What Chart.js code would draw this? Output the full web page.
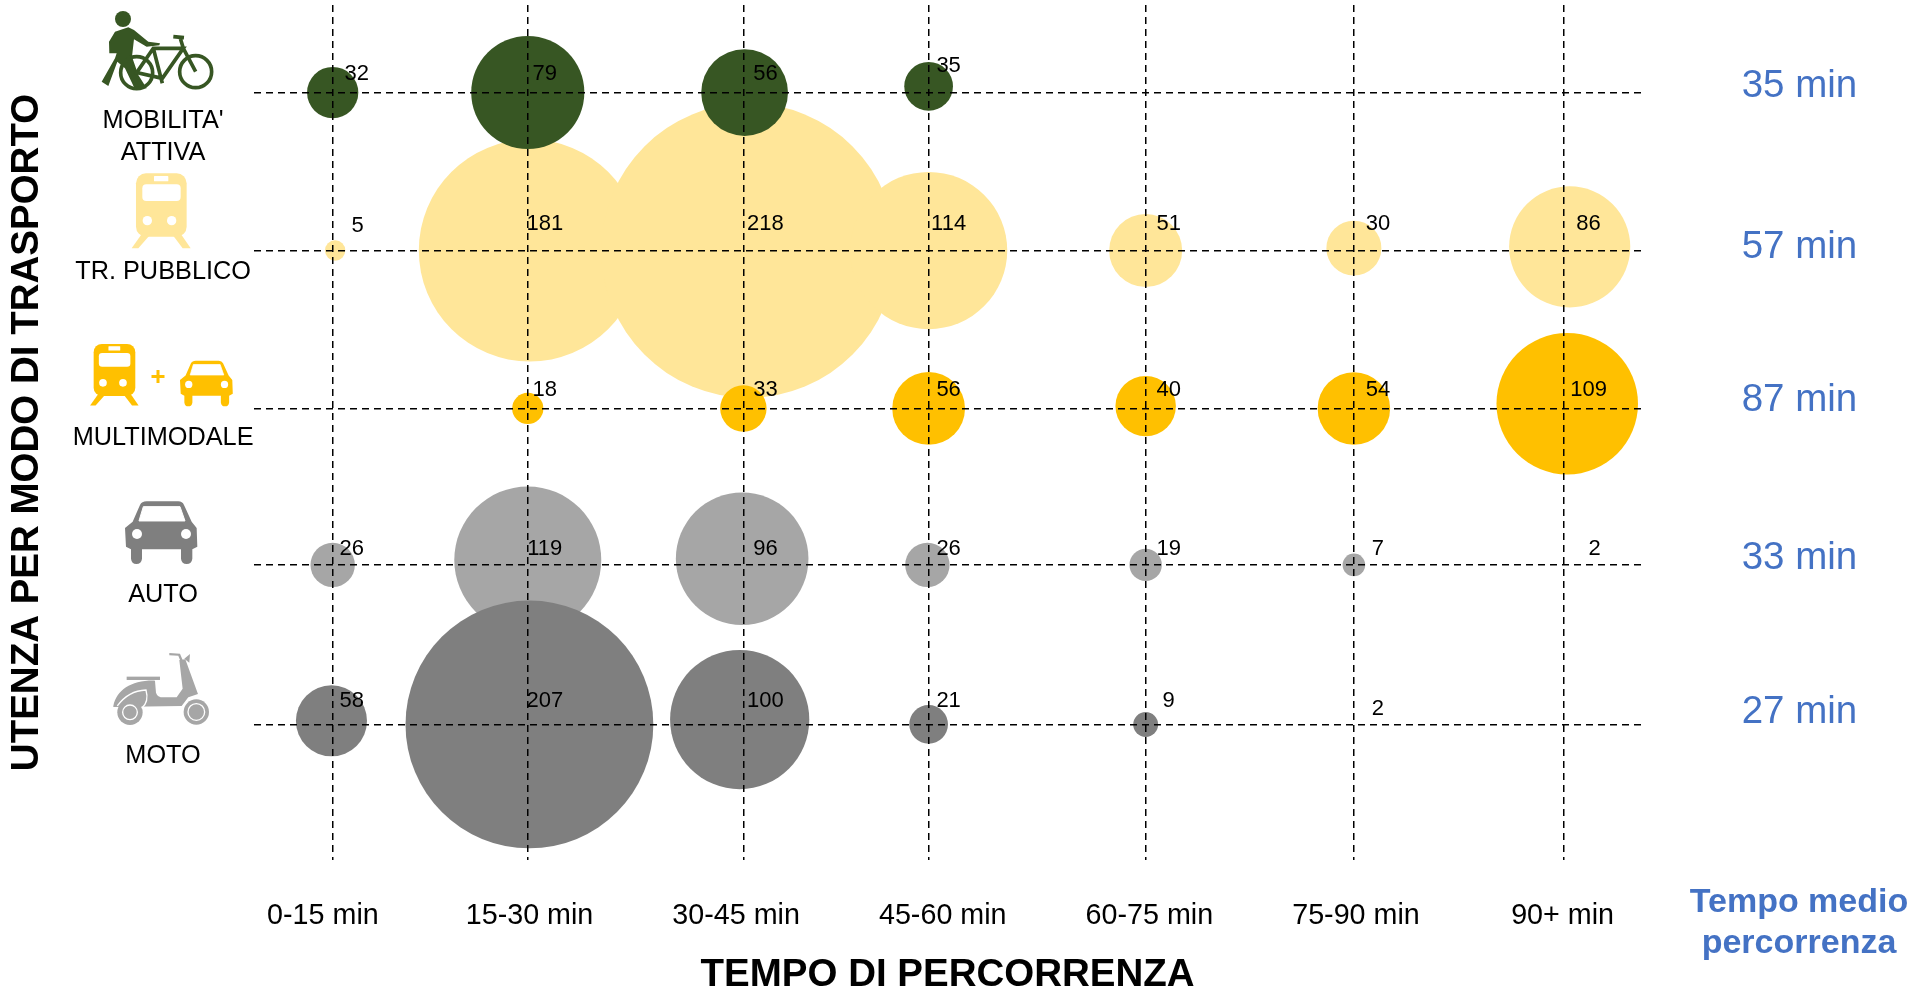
<!DOCTYPE html>
<html>
<head>
<meta charset="utf-8">
<title>Tempo di percorrenza</title>
<script src="https://cdn.jsdelivr.net/npm/chart.js@4"></script>
<style>
html,body{margin:0;padding:0;background:#fff;}
#wrap{position:relative;width:1911px;height:991px;overflow:hidden;}
#chart{position:absolute;left:0;top:0;}
#icons{position:absolute;left:0;top:0;pointer-events:none;}
</style>
</head>
<body>
<div id="wrap">
<canvas id="chart" width="1911" height="991"></canvas>
<svg id="icons" width="1911" height="991" xmlns="http://www.w3.org/2000/svg">
<defs>
<g id="train">
<rect x="0" y="0" width="152" height="190" rx="30"/>
<path d="M22 175 L-13 225 L7 225 L42 185 Z"/>
<path d="M130 175 L164 225 L140 225 L110 185 Z"/>
<rect x="19" y="33" width="115" height="50" rx="12" fill="#fff"/>
<rect x="54" y="8" width="43" height="16" rx="2" fill="#fff"/>
<circle cx="34" cy="142" r="14" fill="#fff"/>
<circle cx="107" cy="142" r="14" fill="#fff"/>
</g>
<g id="car">
<path d="M45 11 Q50 0 65 0 L160 0 Q172 0 177 11 L200 61 L215 80 L217 136 L202 144 L202 172 Q200 188 185 188 Q170 188 168 172 L168 144 L51 144 L51 172 Q49 188 34 188 Q20 188 18 172 L18 144 L3 136 L0 80 L23 61 Z"/>
<path d="M55 16 L165 16 L180 59 L42 59 Z" fill="#fff" stroke="#fff" stroke-width="3" stroke-linejoin="round"/>
<circle cx="36" cy="98" r="15" fill="#fff"/>
<circle cx="183" cy="98" r="15" fill="#fff"/>
</g>
</defs>
<!-- mobilita attiva -->
<g transform="scale(0.3333)" fill="#375623" stroke="none">
<circle cx="369" cy="57" r="24"/>
<path d="M345 95 L385 82 L402 90 L445 125 L480 130 L478 136 L440 140 L402 118 L396 170 L415 225 L440 265 L405 268 L375 205 L352 185 L325 258 L305 245 L345 175 L350 160 L328 160 L327 125 Z"/>
<g fill="none" stroke="#375623" stroke-width="11">
<circle cx="410" cy="218" r="48"/>
<circle cx="587" cy="215" r="48"/>
<path d="M410 218 L460 145 L550 145 L487 235 Z M460 145 L487 250 M550 145 L540 112 M520 110 L552 113 M550 145 L587 215"/>
</g>
</g>
<!-- tr. pubblico -->
<use href="#train" transform="scale(0.3333) translate(408 520)" fill="#FFE699"/>
<!-- multimodale -->
<use href="#train" transform="scale(0.3333) translate(281 1032) scale(0.822)" fill="#FFC000"/>
<path d="M158 370 L158 383 M151.5 376.5 L164.5 376.5" stroke="#FFC000" stroke-width="3" fill="none"/>
<use href="#car" transform="scale(0.3333) translate(540 1082) scale(0.73)" fill="#FFC000"/>
<!-- auto -->
<use href="#car" transform="translate(125 501.3) scale(0.3333)" fill="#7F7F7F"/>
<!-- moto -->
<g transform="translate(0 460) scale(0.3333)" fill="#A6A6A6">
<rect x="380" y="650" width="100" height="10"/>
<path d="M508 579 L540 581 L548 600 L541 602 L535 587 L508 586 Z"/>
<path d="M553 596 L570 582 L568 608 Z"/>
<path d="M340 738 C350 690 395 660 465 662 L468 698 Q472 712 490 712 L530 712 L548 686 L538 600 L556 598 L594 702 L565 712 L545 738 L340 741 Z"/>
<circle cx="390" cy="757" r="38"/>
<circle cx="589" cy="756" r="38"/>
<circle cx="589" cy="756" r="25" fill="none" stroke="#fff" stroke-width="4"/>
<path d="M352 738 Q385 692 438 690 Q448 725 425 745" fill="none" stroke="#fff" stroke-width="4"/>
<circle cx="390" cy="757" r="22" fill="none" stroke="#fff" stroke-width="4"/>
</g>
</svg>
</div>
<script>
// categorie e valori
const fasce = ["0-15 min","15-30 min","30-45 min","45-60 min","60-75 min","75-90 min","90+ min"];
const modi = [["MOBILITA'","ATTIVA"],"TR. PUBBLICO","MULTIMODALE","AUTO","MOTO"];
const tempoMedio = ["35 min","57 min","87 min","33 min","27 min"];

const mobilita = [32,79,56,35,null,null,null];
const pubblico = [5,181,218,114,51,30,86];
const multimodale = [null,18,33,56,40,54,109];
const auto = [26,119,96,26,19,7,2];
const moto = [58,207,100,21,9,2,null];

// le colonne del grafico non sono equidistanti
const colonne = [0,0.951,2.002,2.905,3.963,4.978,6];
const righe = [0,1,2,2.99,4];
const xMin = -0.386, xMax = 6.381;
const yMin = -0.554, yMax = 4.858;
const posModi = [0.282,1.139,2.187,3.181,4.199];
const posTempo = [-0.039,0.98,1.951,2.947,3.926];
// spostamento delle etichette rispetto alle linee
const dxEtichetta = [19,17,22,20,23,24,25];
const dyEtichetta = [-19,-27,-19,-16,-24];
const dxEccezioni = {"0,0":24,"1,0":25,"3,6":31};
const dyEccezioni = {"0,3":-27,"1,0":-25,"4,5":-16};
// nell'originale le bolle non sono proporzionali esatte e non tutte stanno sull'incrocio:
// riga,colonna -> scarto x (colonne), scarto y (righe), scarto raggio
const scarti = {
"0,1":[0,0,4],"0,2":[0.006,0,4],"0,3":[0,-0.039,-3],
"1,0":[0.012,0,0],"1,1":[0.01,0,0],"1,2":[0.025,0,15],"1,3":[0,0,6],"1,5":[0,-0.015,3],"1,6":[0.03,-0.023,4],
"2,1":[0,0,-2],"2,2":[0,0,-3],"2,3":[0,0,-3],"2,4":[0,-0.015,0],"2,5":[0,0,-2],"2,6":[0.018,-0.03,1],
"3,1":[0,-0.031,-2],"3,2":[-0.006,-0.039,4],"3,3":[-0.006,0,0],"3,4":[0,0,-2],
"4,0":[-0.006,-0.023,-5],"4,1":[0.008,0,-2],"4,2":[-0.018,-0.031,5]
};

function raggio(v){
if(v<3) return 0;
return 7.3+0.573*v;
}

function punti(valori,riga){
let out=[];
valori.forEach((v,i)=>{
if(v===null) return;
let s=scarti[riga+","+i]||[0,0,0];
out.push({x:colonne[i]+s[0],y:righe[riga]+s[1],r:raggio(v)+s[2],v:v});
});
return out;
}

const etichette = {
id:"etichette",
afterDraw(chart){
let c=chart.ctx;
let sx=chart.scales.x, sy=chart.scales.y;
c.save();
c.fillStyle="#000";
c.font="22px 'Liberation Sans'";
c.textAlign="center";
c.textBaseline="middle";
[mobilita,pubblico,multimodale,auto,moto].forEach((serie,r)=>{
serie.forEach((v,i)=>{
if(v===null) return;
let k=r+","+i;
let dx=dxEccezioni[k]||dxEtichetta[i];
let dy=dyEccezioni[k]||dyEtichetta[r];
c.fillText(v,sx.getPixelForValue(colonne[i])+dx,sy.getPixelForValue(righe[r])+dy);
});
});
c.fillStyle="#4472C4";
c.font="bold 34px 'Liberation Sans'";
c.fillText("Tempo medio",1799,903);
c.fillText("percorrenza",1799,944);
c.restore();
}
};

let griglia = {color:"#000",lineWidth:1.5,drawTicks:false,z:1};

function senzaMargini(s){
s.paddingTop=0;s.paddingBottom=0;s.paddingLeft=0;s.paddingRight=0;
}

new Chart(document.getElementById("chart"),{
type:"bubble",
plugins:[etichette],
data:{
datasets:[
{label:"Mobilita attiva",data:punti(mobilita,0),backgroundColor:"#375623",borderWidth:0},
{label:"Multimodale",data:punti(multimodale,2),backgroundColor:"#FFC000",borderWidth:0},
{label:"Tr. pubblico",data:punti(pubblico,1),backgroundColor:"#FFE699",borderWidth:0},
{label:"Moto",data:punti(moto,4),backgroundColor:"#7F7F7F",borderWidth:0},
{label:"Auto",data:punti(auto,3),backgroundColor:"#A6A6A6",borderWidth:0}
]
},
options:{
responsive:false,
animation:false,
devicePixelRatio:1,
events:[],
layout:{padding:{top:5},autoPadding:false},
plugins:{legend:{display:false},tooltip:{enabled:false},title:{display:false}},
scales:{
x:{
type:"linear",min:xMin,max:xMax,position:"bottom",
afterBuildTicks(s){s.ticks=colonne.map(v=>({value:v}));},
ticks:{display:false},
border:{display:false,dash:[7,5]},
grid:griglia,
afterFit(s){s.height=0;senzaMargini(s);}
},
x2:{
type:"linear",min:-0.336,max:6.383,position:"bottom",
afterBuildTicks(s){s.ticks=fasce.map((f,i)=>({value:i}));},
ticks:{autoSkip:false,maxRotation:0,padding:39,color:"#000",font:{family:"'Liberation Sans'",size:28.7},callback:(v,i)=>fasce[i]},
border:{display:false},
grid:{display:false,drawTicks:false},
title:{display:true,text:"TEMPO DI PERCORRENZA",color:"#000",font:{family:"'Liberation Sans'",size:38.5,weight:"bold"},padding:{top:20,bottom:-7}},
afterFit(s){s.height=131;senzaMargini(s);}
},
y:{
type:"linear",min:yMin,max:yMax,reverse:true,position:"left",
afterBuildTicks(s){s.ticks=righe.map(v=>({value:v}));},
ticks:{display:false},
border:{display:false,dash:[7,5]},
grid:griglia,
afterFit(s){s.width=0;senzaMargini(s);}
},
y2:{
type:"linear",min:yMin,max:yMax,reverse:true,position:"left",
afterBuildTicks(s){s.ticks=posModi.map(v=>({value:v}));},
ticks:{autoSkip:false,padding:0,crossAlign:"center",color:"#000",font:{family:"'Liberation Sans'",size:25.3,lineHeight:1.25},callback:(v,i)=>modi[i]},
border:{display:false},
grid:{display:false,drawTicks:false},
title:{display:true,text:"UTENZA PER MODO DI TRASPORTO",color:"#000",font:{family:"'Liberation Sans'",size:38.5,weight:"bold"},padding:{top:4,bottom:0}},
afterFit(s){s.width=253.5;senzaMargini(s);}
},
y3:{
type:"linear",min:yMin,max:yMax,reverse:true,position:"right",
afterBuildTicks(s){s.ticks=posTempo.map(v=>({value:v}));},
ticks:{autoSkip:false,padding:100,color:"#4472C4",font:{family:"'Liberation Sans'",size:38.5},callback:(v,i)=>tempoMedio[i]},
border:{display:false},
grid:{display:false,drawTicks:false},
afterFit(s){s.width=269.3;senzaMargini(s);}
}
}
}
});
</script>
</body>
</html>
